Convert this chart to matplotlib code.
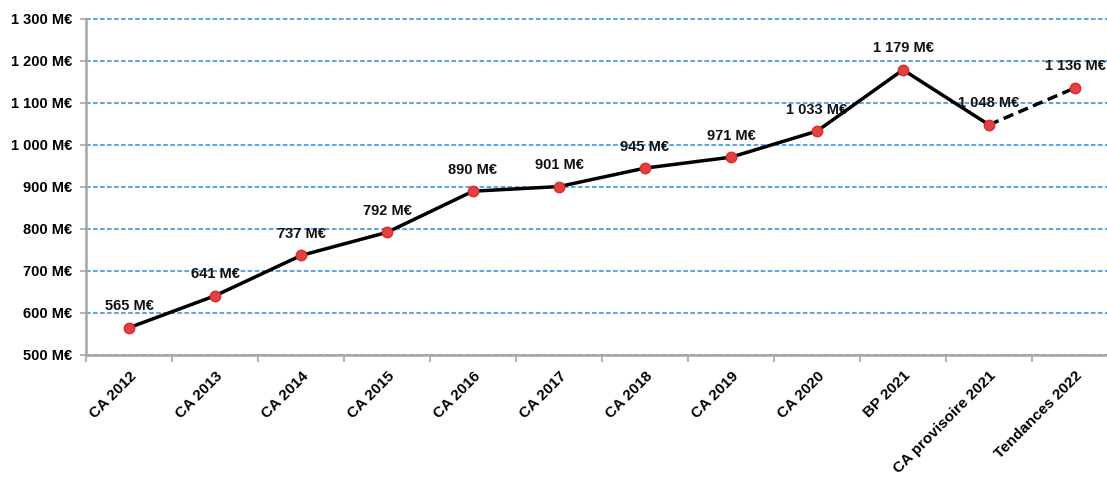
import matplotlib
matplotlib.use("Agg")
import matplotlib.pyplot as plt
from matplotlib.ticker import FuncFormatter, MultipleLocator

categories = ["CA 2012", "CA 2013", "CA 2014", "CA 2015", "CA 2016", "CA 2017",
              "CA 2018", "CA 2019", "CA 2020", "BP 2021", "CA provisoire 2021",
              "Tendances 2022"]
values = [565, 641, 737, 792, 890, 901, 945, 971, 1033, 1179, 1048, 1136]
solid_count = 11  # last segment (forecast) drawn dashed

plt.rcParams['font.family'] = ['Liberation Sans', 'DejaVu Sans']

def fmt_meur(v):
    s = f"{int(round(v)):,}".replace(",", " ")
    return f"{s} M€"

fig = plt.figure(figsize=(11.07, 4.79), dpi=100)
ax = fig.add_axes([86 / 1107, 1 - 355 / 479, 1032 / 1107, 336 / 479])

x = list(range(len(categories)))

ax.plot(x[:solid_count], values[:solid_count], color="black", lw=2.5, zorder=3)
ax.plot(x[solid_count - 1:], values[solid_count - 1:], color="black", lw=2.5,
        ls=(0, (3, 1.6)), zorder=3)
ax.plot(x, values, ls="none", marker="o", ms=7.5, mfc="#dc4444", mec="#e8262a",
        mew=1.0, zorder=4)

for xi, v in zip(x, values):
    ax.annotate(fmt_meur(v), (xi, v), xytext=(0, 10.5), textcoords="offset points",
                ha="center", va="bottom", fontsize=10.5, fontweight="bold",
                color="#111111")

ax.set_xlim(-0.5, len(categories) - 0.5)
ax.set_ylim(500, 1300)
ax.yaxis.set_major_locator(MultipleLocator(100))
ax.yaxis.set_major_formatter(FuncFormatter(lambda v, p: fmt_meur(v)))
ax.grid(axis="y", color="#2d8ae0", ls=(0, (3, 1.6)), lw=1.1)
ax.set_axisbelow(True)
for gl in ax.get_ygridlines():
    gl.set_clip_on(False)

ax.set_xticks([i - 0.5 for i in range(len(categories) + 1)])
ax.set_xticklabels([])
ax.set_xticks(x, minor=True)
ax.set_xticklabels(categories, minor=True, rotation=45, ha="right",
                   rotation_mode="anchor", fontsize=11, fontweight="bold")
ax.tick_params(axis="x", which="minor", length=0, pad=10)
ax.tick_params(axis="x", which="major", length=5, color="#a6a6a6", width=1.2)
ax.tick_params(axis="y", length=4, color="#a6a6a6", width=1.2, pad=6)
for lbl in ax.get_yticklabels():
    lbl.set_fontweight("bold")
    lbl.set_fontsize(10.5)

for side in ("top", "right"):
    ax.spines[side].set_visible(False)
for side in ("left", "bottom"):
    ax.spines[side].set_color("#a6a6a6")
    ax.spines[side].set_linewidth(1.8)

fig.savefig("out.png", dpi=100)
